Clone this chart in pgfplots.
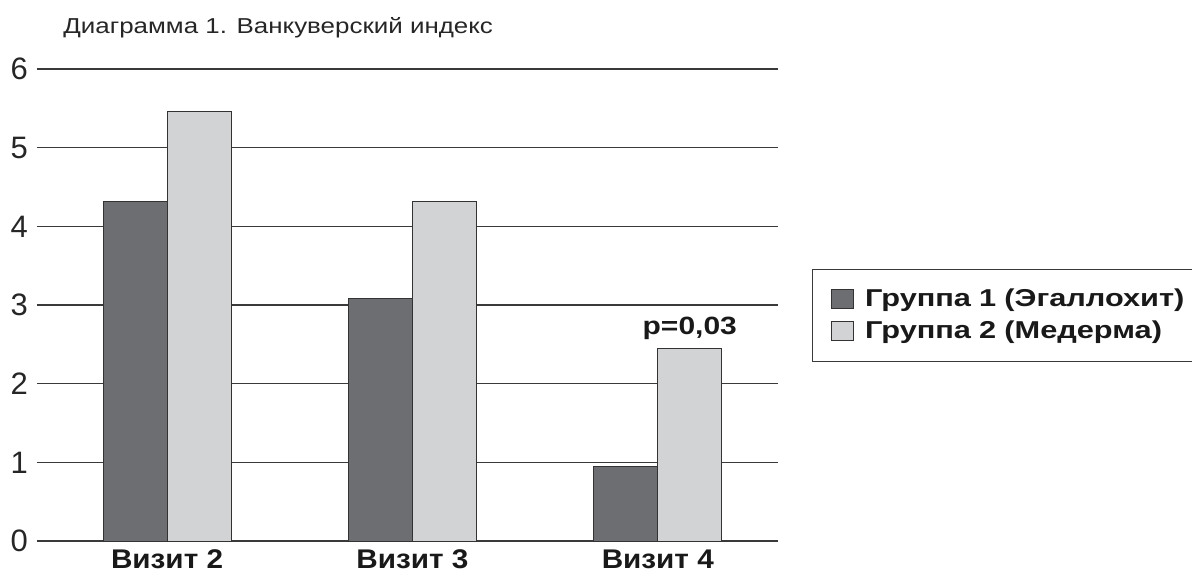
\documentclass[border=0pt]{standalone}
\usepackage{fontspec}
\setmainfont{Liberation Sans}
\newfontfamily\widefont[FakeStretch=1.2]{Liberation Sans}
\newfontfamily\widerfont[FakeStretch=1.26]{Liberation Sans}
\newfontfamily\catfont[FakeStretch=1.1]{Liberation Sans}
\usepackage{pgfplots}
\pgfplotsset{compat=1.18}
\definecolor{darkbar}{HTML}{6D6E71}
\definecolor{lightbar}{HTML}{D1D3D4}
\definecolor{gridc}{HTML}{3A3A3A}
\begin{document}
\begin{tikzpicture}[x=1pt,y=1pt]
\path[use as bounding box] (0,0) rectangle (596,287.5);
\node[anchor=base west,inner sep=0pt,font=\widefont\fontsize{10.8}{13}\selectfont,text=black!85] at (31.5,271) {Диаграмма 1. Ванкуверский индекс};
\begin{axis}[
  at={(18.5pt,17pt)}, anchor=south west,
  scale only axis, width=370.5pt, height=236pt,
  xmin=-0.53, xmax=2.49, ymin=0, ymax=6,
  ybar=0pt, bar width=32pt,
  xtick={0,1,2}, xticklabels={Визит 2,Визит 3,Визит 4},
  ytick={0,1,2,3,4,5,6},
  axis line style={draw=none},
  major tick length=0pt,
  ymajorgrids, grid style={gridc, line width=0.6pt},
  /pgf/number format/assume math mode=true,
  yticklabel style={font=\fontsize{15.5}{17}\selectfont, text=black!85, anchor=east, xshift=-1pt},
  xticklabel style={font=\catfont\bfseries\fontsize{13.5}{16}\selectfont, text=black!90, yshift=-1pt},
  legend style={at={(1.046,0.478)}, anchor=west, draw=gridc, line width=0.6pt,
    font=\widerfont\bfseries\fontsize{12.2}{14}\selectfont, text=black!90,
    inner xsep=9pt, inner ysep=8pt, text width=175pt,
    row sep=1.5pt, legend cell align=left},
  legend image code/.code={\draw[#1, line width=0.4pt] (0pt,-4.5pt) rectangle (11pt,5pt); \path[draw=none,fill=none] (0pt,0pt) -- (15pt,0pt);},
]
\addplot[fill=darkbar, draw=black!80, line width=0.5pt] coordinates {(0,4.32) (1,3.08) (2,0.95)};
\addplot[fill=lightbar, draw=black!80, line width=0.5pt] coordinates {(0,5.46) (1,4.31) (2,2.45)};
\legend{Группа 1 (Эгаллохит), Группа 2 (Медерма)}
\node[anchor=south, font=\widefont\bfseries\fontsize{12.5}{14}\selectfont, text=black!90, xshift=16pt, yshift=1pt] at (axis cs:2,2.45) {p=0,03};
\end{axis}
\end{tikzpicture}
\end{document}
